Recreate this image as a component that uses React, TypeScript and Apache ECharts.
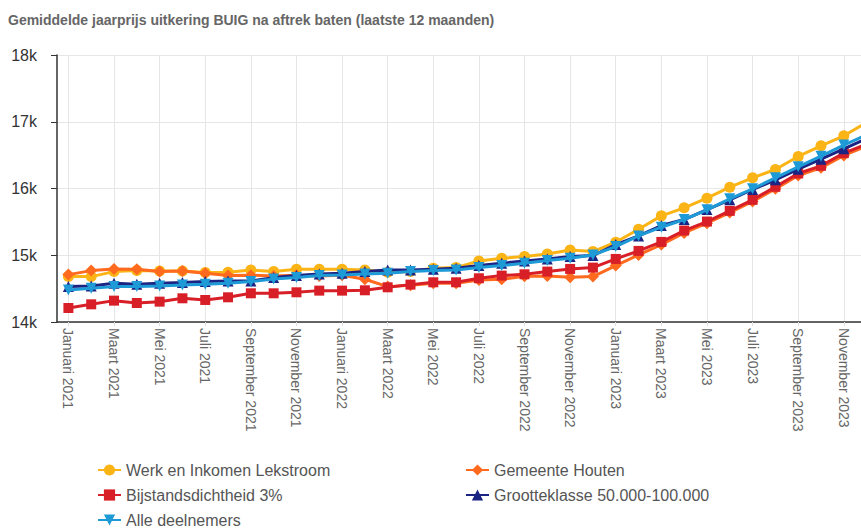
import React, { useEffect, useRef } from "react";
import * as echarts from "echarts";

const monthNames = ["Januari", "Februari", "Maart", "April", "Mei", "Juni", "Juli", "Augustus", "September", "Oktober", "November", "December"];
const years = [2021, 2022, 2023];
const categories: string[] = [];
years.forEach((y) => monthNames.forEach((m) => categories.push(m + " " + y)));

const werkLekstroom = [14680, 14680, 14755, 14770, 14765, 14765, 14740, 14745, 14780, 14755, 14790, 14790, 14790, 14780, 14745, 14755, 14805, 14815, 14915, 14955, 14980, 15020, 15080, 15055, 15195, 15390, 15590, 15710, 15855, 16020, 16160, 16285, 16480, 16640, 16790, 16990];
const gemeenteHouten = [14710, 14770, 14795, 14790, 14755, 14765, 14730, 14695, 14700, 14690, 14700, 14690, 14700, 14640, 14530, 14550, 14580, 14580, 14630, 14640, 14685, 14690, 14670, 14680, 14845, 15005, 15160, 15335, 15480, 15640, 15805, 15995, 16195, 16310, 16495, 16635];
const bijstand3 = [14210, 14265, 14320, 14285, 14305, 14355, 14330, 14370, 14430, 14430, 14445, 14470, 14470, 14475, 14520, 14560, 14595, 14595, 14655, 14695, 14715, 14755, 14795, 14815, 14945, 15065, 15200, 15370, 15505, 15665, 15830, 16025, 16225, 16340, 16530, 16665];
const grootteklasse = [14530, 14540, 14580, 14565, 14580, 14590, 14605, 14615, 14615, 14665, 14695, 14720, 14730, 14755, 14780, 14780, 14790, 14805, 14845, 14880, 14915, 14945, 14980, 14995, 15160, 15290, 15445, 15535, 15685, 15830, 15985, 16130, 16290, 16440, 16595, 16745];
const alleDeelnemers = [14480, 14505, 14530, 14530, 14540, 14555, 14565, 14580, 14605, 14645, 14665, 14695, 14705, 14720, 14730, 14755, 14770, 14780, 14815, 14845, 14880, 14920, 14955, 15005, 15130, 15290, 15420, 15535, 15680, 15845, 15995, 16160, 16325, 16485, 16650, 16805];

const seriesNames = ["Werk en Inkomen Lekstroom", "Gemeente Houten", "Bijstandsdichtheid 3%", "Grootteklasse 50.000-100.000", "Alle deelnemers"];
const seriesData = [werkLekstroom, gemeenteHouten, bijstand3, grootteklasse, alleDeelnemers];
const seriesColors = ["#FBB416", "#FF6A1F", "#D81F27", "#1B2383", "#1E9AD6"];
const seriesSymbols = ["circle", "diamond", "rect", "triangle", "triangle"];
const symbolSizes = [11, 12, 10, 11, 11];
const symbolRotates = [0, 0, 0, 0, 180];

// legend layout: [left, top] per series
const legendPos = [
  [97, 462],
  [465, 462],
  [97, 487],
  [465, 487],
  [97, 512],
];

const FONT = "'Liberation Sans', Arial, Helvetica, sans-serif";

export default function App() {
  const ref = useRef<HTMLDivElement>(null);
  useEffect(() => {
    if (!ref.current) return;
    const chart = echarts.init(ref.current, null, { renderer: "svg" });
    const series = seriesNames.map((name, i) => ({
      name,
      type: "line",
      data: seriesData[i],
      symbol: seriesSymbols[i],
      symbolSize: symbolSizes[i],
      symbolRotate: symbolRotates[i],
      showAllSymbol: true,
      lineStyle: { width: 3, color: seriesColors[i] },
      itemStyle: { color: seriesColors[i] },
      z: 2 + i,
    }));
    const legends = seriesNames.map((name, i) => ({
      orient: "horizontal",
      left: legendPos[i][0],
      top: legendPos[i][1],
      padding: 0,
      itemWidth: 23,
      itemHeight: 14,
      data: [name],
      textStyle: { fontFamily: FONT, fontSize: 16, color: "#555555" },
    }));
    chart.setOption({
      animation: false,
      textStyle: { fontFamily: FONT },
      title: {
        text: "Gemiddelde jaarprijs uitkering BUIG na aftrek baten (laatste 12 maanden)",
        left: 3,
        top: 8,
        textStyle: { fontFamily: FONT, fontSize: 14, fontWeight: "bold", color: "#666666" },
      },
      color: seriesColors,
      legend: legends,
      grid: { left: 57, top: 55, width: 821, height: 267, containLabel: false },
      xAxis: {
        type: "category",
        data: categories,
        boundaryGap: true,
        axisLine: { show: true, lineStyle: { color: "#333333", width: 1.5 } },
        axisTick: { show: true, interval: 1, alignWithLabel: true, length: 4, lineStyle: { color: "#dddddd" } },
        axisLabel: { interval: 1, rotate: -90, margin: 6, fontSize: 14, color: "#666666", fontFamily: FONT },
        splitLine: { show: true, interval: 1, alignWithLabel: true, lineStyle: { color: "#e6e6e6", width: 1 } },
      },
      yAxis: {
        type: "value",
        min: 14000,
        max: 18000,
        interval: 1000,
        axisLine: { show: true, lineStyle: { color: "#333333", width: 1.5 } },
        axisTick: { show: true, length: 6, lineStyle: { color: "#333333" } },
        axisLabel: { fontSize: 16, color: "#333333", margin: 20, fontFamily: FONT, formatter: (v: number) => v / 1000 + "k" },
        splitLine: { show: true, lineStyle: { color: "#e6e6e6", width: 1 } },
      },
      series,
    });
    return () => chart.dispose();
  }, []);
  return (
    <div style={{ position: "fixed", left: 0, top: 0, width: 861, height: 530, overflow: "hidden", background: "#ffffff" }}>
      <div ref={ref} style={{ position: "absolute", left: 0, top: 0, width: 880, height: 530 }} />
    </div>
  );
}
